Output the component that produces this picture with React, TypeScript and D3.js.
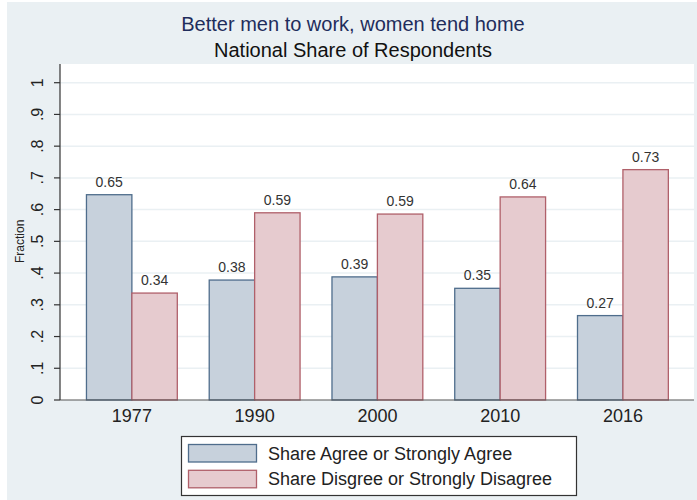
import { useEffect, useRef } from "react"
import * as d3 from "d3"

const years = ["1977", "1990", "2000", "2010", "2016"]
const agree = [0.647, 0.378, 0.388, 0.352, 0.266]
const disagree = [0.337, 0.59, 0.586, 0.64, 0.726]
const yTicks = [0, 0.1, 0.2, 0.3, 0.4, 0.5, 0.6, 0.7, 0.8, 0.9, 1]
const seriesNames = ["Share Agree or Strongly Agree", "Share Disgree or Strongly Disagree"]

const fills = ["#c7d1dc", "#e6cbcf"]
const strokes = ["#4f6d8c", "#b0606a"]

export default function App() {
  const svgRef = useRef<SVGSVGElement>(null)

  useEffect(() => {
    if (!svgRef.current) return
    document.body.style.margin = "0"
    const svg = d3.select(svgRef.current)
    svg.selectAll("*").remove()

    const width = 697
    const height = 500
    const font = "'Liberation Sans', Arial, sans-serif"
    const left = 60
    const right = 694
    const top = 64
    const bottom = 400

    // background
    svg.append("rect").attr("width", width).attr("height", height).attr("fill", "#fff")
    svg
      .append("rect")
      .attr("x", 7)
      .attr("y", 2)
      .attr("width", width - 7)
      .attr("height", height - 2)
      .attr("fill", "#eaf0f3")
    svg
      .append("rect")
      .attr("x", left)
      .attr("y", top)
      .attr("width", right - left)
      .attr("height", bottom - top)
      .attr("fill", "#fff")

    const y = d3.scaleLinear().domain([0, 1]).range([bottom, 82.7])
    const x = d3
      .scaleBand()
      .domain(years)
      .range([70.5, 684.3])
      .paddingInner(0.26)
      .paddingOuter(0.13)
    const sub = d3.scaleBand().domain(["0", "1"]).range([0, x.bandwidth()])

    // gridlines
    svg
      .selectAll(".grid")
      .data(yTicks.slice(1))
      .enter()
      .append("line")
      .attr("x1", left)
      .attr("x2", right)
      .attr("y1", (d) => y(d))
      .attr("y2", (d) => y(d))
      .attr("stroke", "#eaf0f3")
      .attr("stroke-width", 1.5)

    // bars
    const series = [agree, disagree]
    series.forEach((vals, s) => {
      svg
        .selectAll(".bar" + s)
        .data(vals)
        .enter()
        .append("rect")
        .attr("x", (d, i) => (x(years[i]) as number) + (sub(String(s)) as number))
        .attr("y", (d) => y(d))
        .attr("width", sub.bandwidth())
        .attr("height", (d) => bottom - y(d))
        .attr("fill", fills[s])
        .attr("stroke", strokes[s])
        .attr("stroke-width", 1.3)

      svg
        .selectAll(".lab" + s)
        .data(vals)
        .enter()
        .append("text")
        .attr("x", (d, i) => (x(years[i]) as number) + (sub(String(s)) as number) + sub.bandwidth() / 2)
        .attr("y", (d) => y(d) - 8)
        .attr("text-anchor", "middle")
        .attr("font-family", font)
        .attr("font-size", 14)
        .attr("fill", "#333")
        .text((d) => d3.format(".2f")(d))
    })

    // axes
    svg
      .append("line")
      .attr("x1", left)
      .attr("x2", right)
      .attr("y1", bottom)
      .attr("y2", bottom)
      .attr("stroke", "#555")
      .attr("stroke-width", 1.2)
    svg
      .append("line")
      .attr("x1", left)
      .attr("x2", left)
      .attr("y1", top)
      .attr("y2", bottom)
      .attr("stroke", "#333")
      .attr("stroke-width", 1.2)

    svg
      .selectAll(".ytick")
      .data(yTicks)
      .enter()
      .append("line")
      .attr("x1", left - 6)
      .attr("x2", left)
      .attr("y1", (d) => y(d))
      .attr("y2", (d) => y(d))
      .attr("stroke", "#333")
      .attr("stroke-width", 1.2)

    svg
      .selectAll(".ylab")
      .data(yTicks)
      .enter()
      .append("text")
      .attr("transform", (d) => `translate(43,${y(d)}) rotate(-90)`)
      .attr("text-anchor", "middle")
      .attr("font-family", font)
      .attr("font-size", 16)
      .attr("fill", "#222")
      .text((d) => (d === 0 ? "0" : d === 1 ? "1" : d3.format(".1f")(d).replace(/^0/, "")))

    svg
      .append("text")
      .attr("transform", `translate(24,${y(0.5)}) rotate(-90)`)
      .attr("text-anchor", "middle")
      .attr("font-family", font)
      .attr("font-size", 12)
      .attr("fill", "#222")
      .text("Fraction")

    svg
      .selectAll(".xlab")
      .data(years)
      .enter()
      .append("text")
      .attr("x", (d) => (x(d) as number) + x.bandwidth() / 2)
      .attr("y", 422)
      .attr("text-anchor", "middle")
      .attr("font-family", font)
      .attr("font-size", 18)
      .attr("fill", "#222")
      .text((d) => d)

    // titles
    svg
      .append("text")
      .attr("x", 353)
      .attr("y", 31)
      .attr("text-anchor", "middle")
      .attr("font-family", font)
      .attr("font-size", 20)
      .attr("fill", "#1f2d5c")
      .text("Better men to work, women tend home")
    svg
      .append("text")
      .attr("x", 353)
      .attr("y", 57)
      .attr("text-anchor", "middle")
      .attr("font-family", font)
      .attr("font-size", 20)
      .attr("fill", "#111")
      .text("National Share of Respondents")

    // legend
    svg
      .append("rect")
      .attr("x", 181.5)
      .attr("y", 436.5)
      .attr("width", 395)
      .attr("height", 59)
      .attr("fill", "#fff")
      .attr("stroke", "#333")
      .attr("stroke-width", 1.2)
    seriesNames.forEach((name, s) => {
      const ly = 444.5 + s * 25.8
      svg
        .append("rect")
        .attr("x", 188.5)
        .attr("y", ly)
        .attr("width", 68)
        .attr("height", 17.5)
        .attr("fill", fills[s])
        .attr("stroke", strokes[s])
        .attr("stroke-width", 1.3)
      svg
        .append("text")
        .attr("x", 268)
        .attr("y", ly + 15)
        .attr("font-family", font)
        .attr("font-size", 18)
        .attr("fill", "#222")
        .text(name)
    })
  }, [])

  return <svg ref={svgRef} width={697} height={500} style={{ display: "block" }}></svg>
}
